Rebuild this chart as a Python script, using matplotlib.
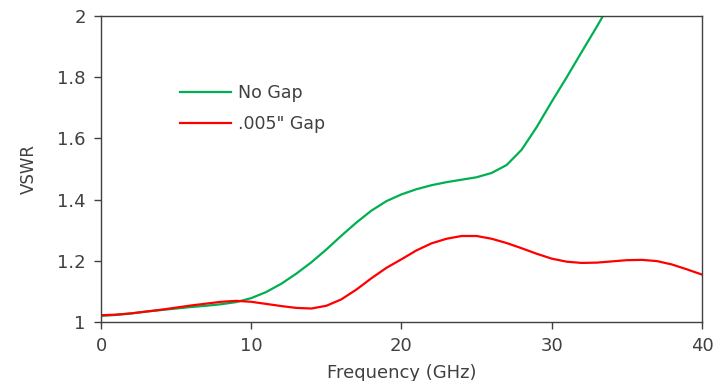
import numpy as np
import matplotlib
matplotlib.use("Agg")
import matplotlib.pyplot as plt

plt.rcParams['font.family'] = ['DejaVu Sans']

# frequency in GHz
freq = [0, 1, 2, 3, 4, 5, 6, 7, 8, 9, 10, 11, 12, 13, 14, 15, 16, 17, 18, 19, 20,
        21, 22, 23, 24, 25, 26, 27, 28, 29, 30, 31, 32, 33, 34, 35, 36, 37, 38, 39, 40]

# VSWR, no gap (leaves the plot above 2 near 33 GHz)
vswr_nogap = [1.020, 1.023, 1.028, 1.034, 1.039, 1.044, 1.049, 1.053, 1.058, 1.065, 1.078,
              1.098, 1.125, 1.158, 1.195, 1.237, 1.282, 1.325, 1.364, 1.395, 1.417,
              1.434, 1.447, 1.457, 1.465, 1.473, 1.487, 1.513, 1.563, 1.637, 1.720,
              1.800, 1.883, 1.965, 2.050, 2.130, 2.210, 2.290, 2.370, 2.450, 2.530]

# VSWR, .005" gap
vswr_gap = [1.022, 1.024, 1.028, 1.034, 1.040, 1.047, 1.054, 1.060, 1.066, 1.069, 1.066,
            1.059, 1.052, 1.046, 1.044, 1.053, 1.074, 1.106, 1.143, 1.177, 1.205,
            1.234, 1.257, 1.272, 1.281, 1.281, 1.272, 1.258, 1.241, 1.223, 1.207,
            1.197, 1.193, 1.194, 1.198, 1.202, 1.203, 1.199, 1.188, 1.172, 1.155]

txt = "#404040"

fig = plt.figure(figsize=(7.17, 3.81), dpi=100)
ax = fig.add_axes([0.1409, 0.1549, 0.979 - 0.1409, 0.958 - 0.1549])

ax.plot(freq, vswr_nogap, color="#00B050", lw=1.6, label="No Gap")
ax.plot(freq, vswr_gap, color="#FF0000", lw=1.6, label=".005\" Gap")

ax.set_xlim(0, 40)
ax.set_ylim(1, 2)
ax.set_xticks([0, 10, 20, 30, 40])
ax.set_yticks([1, 1.2, 1.4, 1.6, 1.8, 2])
ax.set_yticklabels(["1", "1.2", "1.4", "1.6", "1.8", "2"])

for s in ax.spines.values():
    s.set_color("#404040")
    s.set_linewidth(1.0)
ax.tick_params(direction="out", length=5, width=1, color="#404040",
               labelcolor=txt, labelsize=13, pad=6)

ax.set_xlabel("Frequency (GHz)", fontsize=13, color=txt, labelpad=6)
ax.set_ylabel("VSWR", fontsize=12, color=txt, labelpad=14)

ax.legend(frameon=False, loc="upper left", bbox_to_anchor=(0.106, 0.83),
          fontsize=12.5, handlelength=2.9, handletextpad=0.4, labelspacing=0.75,
          labelcolor=txt)

fig.savefig("out.png", dpi=100)
